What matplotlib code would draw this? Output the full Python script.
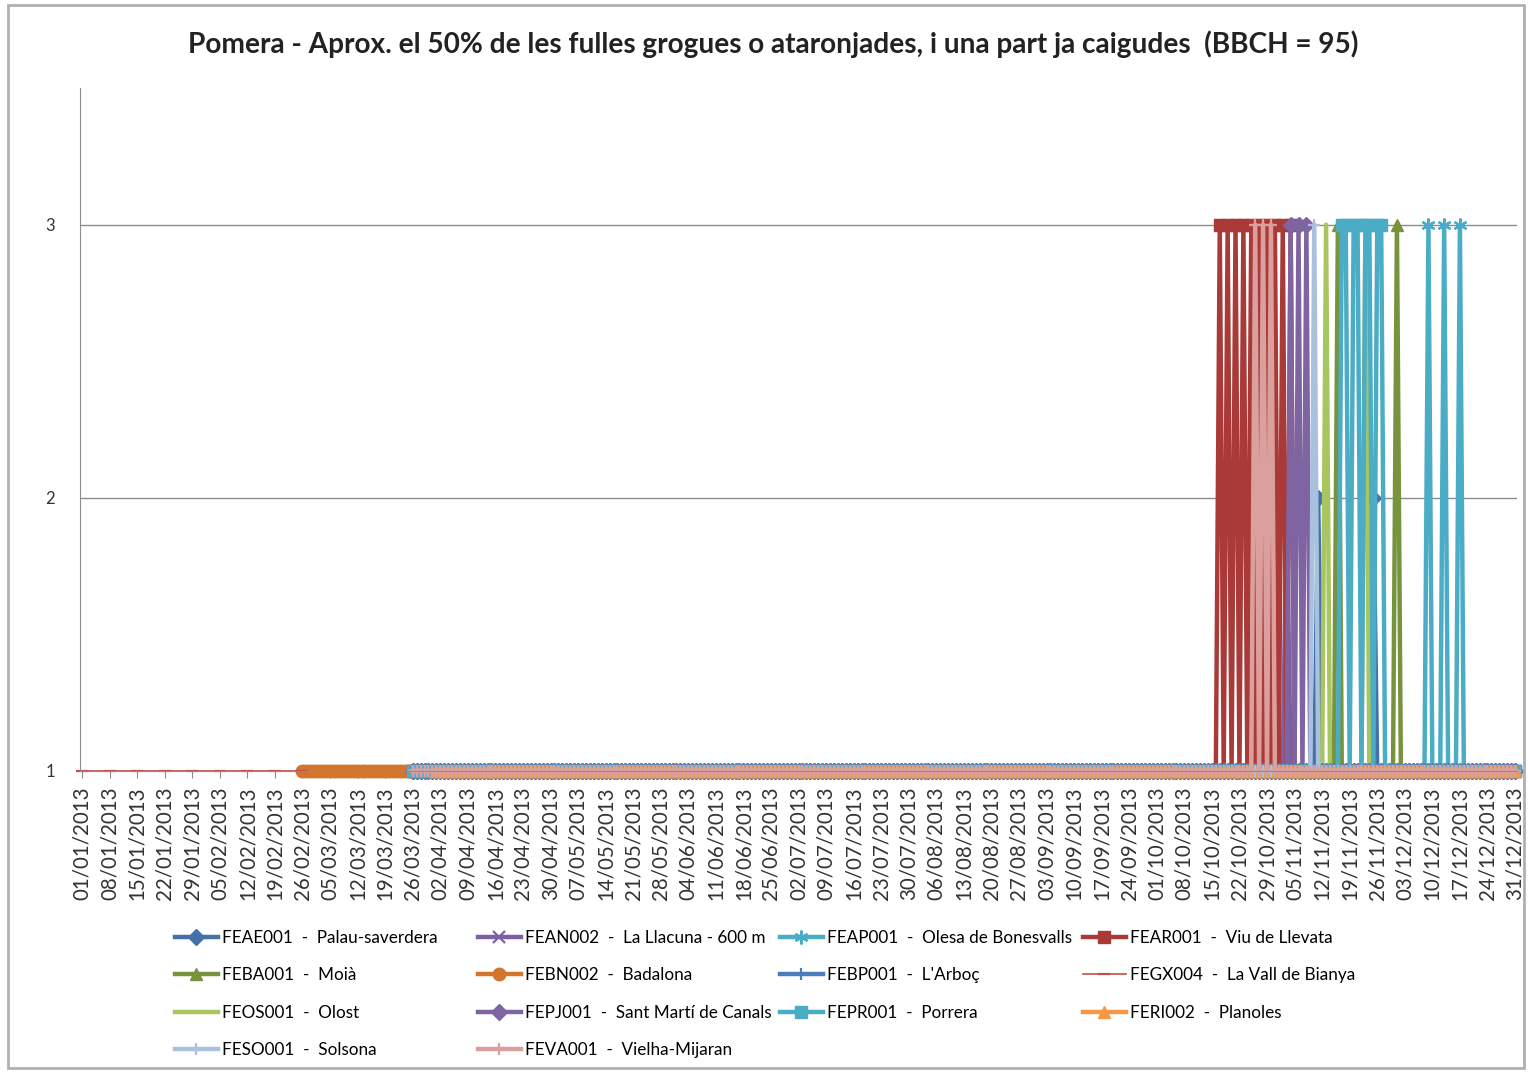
import numpy as np
import pandas as pd
import matplotlib
matplotlib.use("Agg")
import matplotlib.pyplot as plt
from matplotlib.patches import Rectangle

plt.rcParams["font.family"] = ["Lato", "DejaVu Sans"]

# categories: every day of 2013
days = pd.date_range("2013-01-01", "2013-12-31", freq="D")

noms = ["FEAE001  -  Palau-saverdera", "FEAN002  -  La Llacuna - 600 m",
        "FEAP001  -  Olesa de Bonesvalls", "FEAR001  -  Viu de Llevata",
        "FEBA001  -  Moià", "FEBN002  -  Badalona", "FEBP001  -  L'Arboç",
        "FEGX004  -  La Vall de Bianya", "FEOS001  -  Olost",
        "FEPJ001  -  Sant Martí de Canals", "FEPR001  -  Porrera",
        "FERI002  -  Planoles", "FESO001  -  Solsona", "FEVA001  -  Vielha-Mijaran"]

# period with observations (value 1) for each station, and sampling step in days
inici = ["26/03/2013", "26/03/2013", "26/03/2013", "26/03/2013", "26/03/2013",
         "26/02/2013", "26/03/2013", "01/01/2013", "26/03/2013", "26/03/2013",
         "26/03/2013", "01/04/2013", "26/03/2013", "26/03/2013"]
final = ["31/12/2013", "31/12/2013", "31/12/2013", "31/12/2013", "31/12/2013",
         "26/03/2013", "31/12/2013", "26/02/2013", "31/12/2013", "31/12/2013",
         "31/12/2013", "31/12/2013", "31/12/2013", "31/12/2013"]
pas = [1, 1, 1, 1, 1, 1, 1, 7, 1, 1, 1, 1, 1, 1]

# days on which the value is not 1
canvis = {
    "FEAE001": [("11/11/2013", 2), ("25/11/2013", 2)],
    "FEAN002": [("03/11/2013", 2)],
    "FEAP001": [("09/12/2013", 3), ("13/12/2013", 3), ("17/12/2013", 3)],
    "FEAR001": [("17/10/2013", 3), ("19/10/2013", 3), ("21/10/2013", 3), ("23/10/2013", 3),
                ("25/10/2013", 3), ("27/10/2013", 3), ("29/10/2013", 3), ("31/10/2013", 3),
                ("02/11/2013", 3), ("04/11/2013", 3)],
    "FEBA001": [("16/11/2013", 3), ("01/12/2013", 3)],
    "FEBN002": [],
    "FEBP001": [],
    "FEGX004": [],
    "FEOS001": [("13/11/2013", 3), ("23/11/2013", 3)],
    "FEPJ001": [("04/11/2013", 3), ("06/11/2013", 3), ("08/11/2013", 3)],
    "FEPR001": [("17/11/2013", 3), ("18/11/2013", 3), ("20/11/2013", 3), ("21/11/2013", 3),
                ("23/11/2013", 3), ("24/11/2013", 3), ("26/11/2013", 3), ("27/11/2013", 3)],
    "FERI002": [],
    "FESO001": [("10/11/2013", 3)],
    "FEVA001": [("26/10/2013", 3), ("28/10/2013", 3), ("30/10/2013", 3)],
}

colors = ["#4472A8", "#7E5FA6", "#4BACC6", "#A93A37", "#77933C", "#D3752D", "#4A7EBB",
          "#C0504D", "#A8C560", "#8064A2", "#4BACC6", "#F79646", "#A9C1DE", "#DBA09E"]
marcadors = ["D", "x", (6, 2, 0), "s", "^", "o", "+", "_", None, "D", "s", "^", "+", "+"]
mida = [8, 8, 10, 9, 9, 9, 9, 8, 0, 8, 9, 9, 8, 8]

fig = plt.figure(figsize=(15.28, 10.72), dpi=100)
ax = fig.add_axes([0.0524, 0.2808, 0.9404, 0.6371])

linies = []
for i, nom in enumerate(noms):
    codi = nom.split()[0]
    rang = pd.date_range(pd.to_datetime(inici[i], dayfirst=True),
                         pd.to_datetime(final[i], dayfirst=True), freq=f"{pas[i]}D")
    s = pd.Series(1.0, index=rang)
    for d, v in canvis[codi]:
        s[pd.to_datetime(d, dayfirst=True)] = v
    s = s.sort_index()
    x = days.get_indexer(s.index)
    lw = 1.2 if codi == "FEGX004" else 3.2
    prim = marcadors[i] in ("x", "+", "_", (6, 2, 0))
    ln, = ax.plot(x, s.values, color=colors[i], lw=lw, marker=marcadors[i],
                  ms=mida[i], mew=1.6 if prim else 1,
                  clip_on=False, label=nom)
    linies.append(ln)

ax.set_xlim(-0.5, len(days) - 0.5)
ax.set_ylim(1, 3.5)
ax.set_yticks([1, 2, 3])
ax.grid(axis="y", color="#8c8c8c", lw=1)
ax.set_axisbelow(True)
for sp in ["top", "right"]:
    ax.spines[sp].set_visible(False)
for sp in ["left", "bottom"]:
    ax.spines[sp].set_color("#8c8c8c")
ax.tick_params(axis="y", length=0, pad=18, labelsize=12, labelcolor="#333333")
tpos = np.arange(0, len(days), 7)
ax.set_xticks(tpos)
ax.set_xticklabels([days[p].strftime("%d/%m/%Y") for p in tpos], rotation=90, fontsize=14.8,
                   color="#333333")
ax.tick_params(axis="x", length=5, color="#8c8c8c", pad=6)

fig.suptitle("Pomera - Aprox. el 50% de les fulles grogues o ataronjades, i una part ja caigudes  (BBCH = 95)",
             x=0.506, y=0.972, fontsize=20.2, fontweight="bold", color="#222222")

# legend in four equal columns, like the original
columnes = [[0, 4, 8, 12], [1, 5, 9, 13], [2, 6, 10], [3, 7, 11]]
xcol = [175, 478, 780, 1083]
for c, idx in enumerate(columnes):
    fig.legend(handles=[linies[k] for k in idx], loc="upper left",
               bbox_to_anchor=(xcol[c] / 1528, 1 - 930 / 1072), frameon=False,
               fontsize=12.3, handlelength=2.5, handletextpad=0.25, labelspacing=1.25,
               borderpad=0, borderaxespad=0)

fig.patches.append(Rectangle((8 / 1528, 4 / 1072), 1516 / 1528, 1063 / 1072,
                             transform=fig.transFigure, fill=False, ec="#b0b0b0", lw=2))

fig.savefig("out.png", dpi=100)
